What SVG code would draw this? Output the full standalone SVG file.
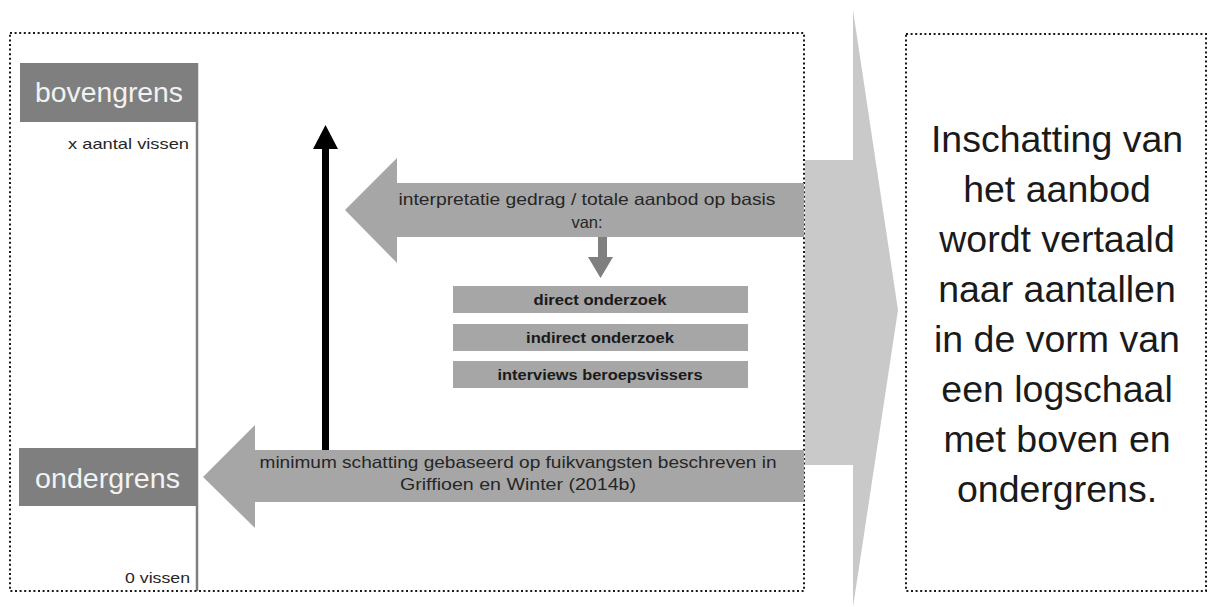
<svg xmlns="http://www.w3.org/2000/svg" width="1209" height="607" viewBox="0 0 1209 607">
<style>
.dot{fill:none;stroke:#1a1a1a;stroke-width:2;stroke-dasharray:2 2.6}
.blk{fill:#a6a6a6}
.lbl{font-family:"Liberation Sans",Arial,sans-serif;fill:#262626;text-anchor:middle;font-size:16.5px}
.big{font-family:"Liberation Sans",Arial,sans-serif;fill:#1a1a1a;text-anchor:middle;font-size:37.5px}
.grens{font-family:"Liberation Sans",Arial,sans-serif;fill:#f2f2f2;font-size:28px}
.small{font-family:"Liberation Sans",Arial,sans-serif;fill:#262626;font-size:15px;text-anchor:end}
.bold{font-family:"Liberation Sans",Arial,sans-serif;fill:#1a1a1a;font-size:15px;font-weight:bold;text-anchor:middle}
</style>
<rect width="1209" height="607" fill="#ffffff"/>

<g id="connectors">
  <polygon id="big-arrow" points="805,160 853,160 853,10 898,310 853,607 853,465 805,465" fill="#c9c9c9"/>
  <polygon id="up-arrow" points="322,450 322,149 313,149 325.5,125 338,149 329,149 329,450" fill="#000000"/>
  <polygon id="down-arrow" points="598,237 607,237 607,257 613,257 600.5,278 588,257 598,257" fill="#7f7f7f"/>
</g>

<g id="left-panel">
  <line x1="197" y1="63" x2="197" y2="591" stroke="#7f7f7f" stroke-width="2.5"/>
  <rect class="dot" x="10" y="33" width="794" height="558"/>
</g>

<g id="bovengrens">
  <rect x="20" y="63" width="178" height="59" fill="#7f7f7f"/>
  <text class="grens" x="35" y="102" textLength="148" lengthAdjust="spacingAndGlyphs">bovengrens</text>
</g>
<g id="x-aantal">
  <text class="small" x="189" y="149" textLength="121" lengthAdjust="spacingAndGlyphs">x aantal vissen</text>
</g>

<g id="ondergrens">
  <rect x="19" y="448" width="178" height="58" fill="#7f7f7f"/>
  <text class="grens" x="35" y="488" textLength="145" lengthAdjust="spacingAndGlyphs">ondergrens</text>
</g>
<g id="nul-vissen">
  <text class="small" x="190" y="583" textLength="65" lengthAdjust="spacingAndGlyphs">0 vissen</text>
</g>

<g id="arrow-interpretatie">
  <polygon class="blk" points="804,183 397,183 397,158 345,210 397,263 397,237 804,237"/>
  <text class="lbl" x="587" y="205" textLength="377" lengthAdjust="spacingAndGlyphs">interpretatie gedrag / totale aanbod op basis</text>
  <text class="lbl" x="587" y="228">van:</text>
</g>

<g id="direct-onderzoek">
  <rect class="blk" x="453" y="286" width="295" height="27"/>
  <text class="bold" x="600" y="305" textLength="133" lengthAdjust="spacingAndGlyphs">direct onderzoek</text>
</g>
<g id="indirect-onderzoek">
  <rect class="blk" x="453" y="324" width="295" height="27"/>
  <text class="bold" x="600" y="343" textLength="148" lengthAdjust="spacingAndGlyphs">indirect onderzoek</text>
</g>
<g id="interviews">
  <rect class="blk" x="453" y="361" width="295" height="27"/>
  <text class="bold" x="600" y="380" textLength="205" lengthAdjust="spacingAndGlyphs">interviews beroepsvissers</text>
</g>

<g id="arrow-minimum">
  <polygon class="blk" points="804,450 255,450 255,425 203,477 255,528 255,502 804,502"/>
  <text class="lbl" x="518" y="468" textLength="517" lengthAdjust="spacingAndGlyphs">minimum schatting gebaseerd op fuikvangsten beschreven in</text>
  <text class="lbl" x="518" y="490" textLength="236" lengthAdjust="spacingAndGlyphs">Griffioen en Winter (2014b)</text>
</g>

<g id="right-panel">
  <rect class="dot" x="906" y="34" width="300" height="557"/>
  <text class="big" x="1057" y="152">Inschatting van</text>
  <text class="big" x="1057" y="202">het aanbod</text>
  <text class="big" x="1057" y="252">wordt vertaald</text>
  <text class="big" x="1057" y="302">naar aantallen</text>
  <text class="big" x="1057" y="352">in de vorm van</text>
  <text class="big" x="1057" y="402">een logschaal</text>
  <text class="big" x="1057" y="452">met boven en</text>
  <text class="big" x="1057" y="502">ondergrens.</text>
</g>
</svg>
